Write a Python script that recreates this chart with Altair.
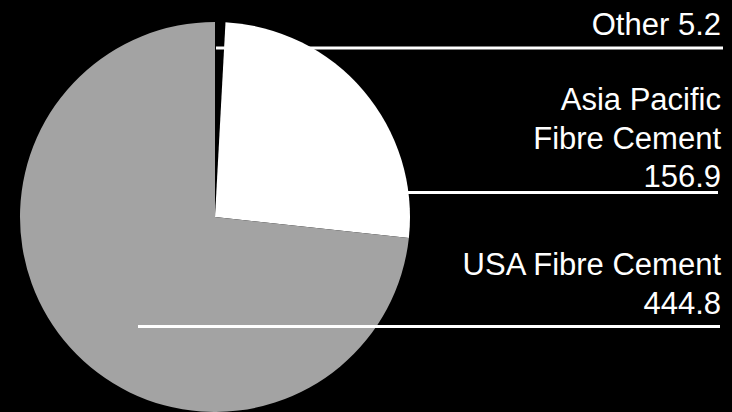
import altair as alt
import pandas as pd

categories = ["Other", "Asia Pacific Fibre Cement", "USA Fibre Cement"]
values = [5.2, 156.9, 444.8]
label_text = ["Other 5.2", "Asia Pacific\nFibre Cement\n156.9", "USA Fibre Cement\n444.8"]

df = pd.DataFrame({
    "category": categories,
    "value": values,
    "label": label_text,
    "order": list(range(len(categories))),
})

slice_colors = ["#000000", "#ffffff", "#a3a3a3"]

# layout (pixel positions of labels and leader lines)
layout = {
    "Other": dict(text_y=34.5, line_y=48, x1=216, x2=723),
    "Asia Pacific Fibre Cement": dict(text_y=110, line_y=192.5, x1=407, x2=718),
    "USA Fibre Cement": dict(text_y=275, line_y=326.5, x1=138, x2=720),
}

base = alt.Chart(df)

pie = base.mark_arc(radius=195, stroke=None).encode(
    theta=alt.Theta("value:Q", stack=True),
    order=alt.Order("order:Q"),
    color=alt.Color("category:N", scale=alt.Scale(domain=categories, range=slice_colors), legend=None),
    x=alt.value(215),
    y=alt.value(217),
)

layers = [pie]
for cat in categories:
    L = layout[cat]
    sub = base.transform_filter(alt.datum.category == cat)
    layers.append(
        sub.mark_rule(color="white", strokeWidth=3).encode(
            x=alt.value(L["x1"]), x2=alt.value(L["x2"]), y=alt.value(L["line_y"])
        )
    )
    layers.append(
        sub.mark_text(
            align="right", baseline="alphabetic", font="Liberation Sans",
            fontSize=31, color="white", lineBreak="\n", lineHeight=38.5,
        ).encode(
            text="label:N", x=alt.value(721), y=alt.value(L["text_y"])
        )
    )

chart = alt.layer(*layers).properties(
    width=732, height=412, background="black", padding=0,
    autosize=alt.AutoSizeParams(type="none"),
).configure_view(stroke=None)

chart.save("out.html", embed_options={"renderer": "svg", "actions": False})
